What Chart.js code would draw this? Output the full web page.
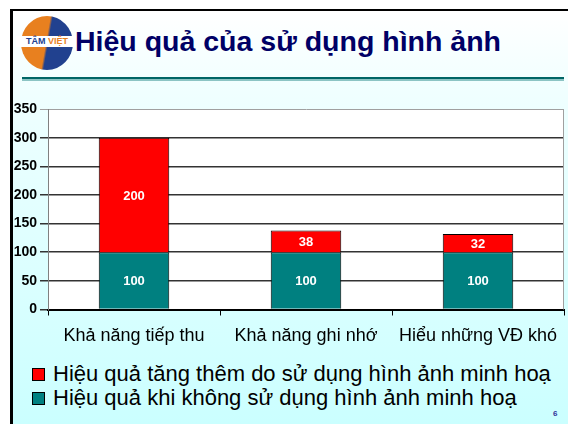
<!DOCTYPE html>
<html>
<head>
<meta charset="utf-8">
<script src="https://cdn.jsdelivr.net/npm/chart.js@4/dist/chart.umd.min.js"></script>
<style>
  html, body { margin: 0; padding: 0; background: #fff; }
  body { width: 568px; height: 424px; position: relative; overflow: hidden; font-family: "Liberation Sans", Arial, sans-serif; }
  #slide { position: absolute; left: 10px; top: 9px; width: 570px; height: 420px; border-top: 2px solid #000; border-left: 3px solid #000;
           background: linear-gradient(to bottom, #ffffff 0%, #eeffff 22%, #caffff 100%); }
  #logo { position: absolute; left: 21px; top: 16px; width: 52px; height: 54px; border-radius: 50%;
          background: linear-gradient(100deg, #e8801f 0%, #e8801f 48%, #21418f 52%, #21418f 100%); }
  #logoText { position: absolute; left: 16px; top: 36px; width: 62px; height: 11px; background: #fff; font-size: 9px; font-weight: bold;
              line-height: 11px; text-align: center; letter-spacing: 0; }
  #logoText .a { color: #21418f; } #logoText .b { color: #e8801f; }
  #title { position: absolute; left: 75px; top: 27px; font-size: 28.5px; line-height: 29px; font-weight: bold; color: #000066; white-space: nowrap; }
  #rule1 { position: absolute; left: 22px; top: 77px; width: 542px; height: 2px; background: #006666; }
  #rule2 { position: absolute; left: 22px; top: 79px; width: 542px; height: 2px; background: #8cc4c4; }
  #chartBox { position: absolute; left: 0; top: 95px; width: 568px; height: 260px; }
  #legend { position: absolute; left: 32px; top: 362px; }
  .row { height: 24px; line-height: 24px; font-size: 22px; white-space: nowrap; position: relative; padding-left: 21px; color: #000; }
  .sw { position: absolute; left: 0; top: 6px; width: 11px; height: 11px; border: 1px solid #000; }
  #page { position: absolute; left: 553px; top: 409px; font-size: 8px; font-weight: bold; color: #333399; }
</style>
</head>
<body>
<div id="slide"></div>
<div id="logo"></div>
<div id="logoText"><span class="a">TÂM</span> <span class="b">VIỆT</span></div>
<div id="title">Hiệu quả của sử dụng hình ảnh</div>
<div id="rule1"></div>
<div id="rule2"></div>
<div id="chartBox"><canvas id="chart"></canvas></div>
<div id="legend"></div>
<div id="page">6</div>
<script>
  // données
  const categories = ["Khả năng tiếp thu", "Khả năng ghi nhớ", "Hiểu những VĐ khó"];
  const baseValues = [100, 100, 100];
  const extraValues = [200, 38, 32];
  const seriesNames = ["Hiệu quả khi không sử dụng hình ảnh minh hoạ", "Hiệu quả tăng thêm do sử dụng hình ảnh minh hoạ"];
  const seriesColors = ["#008080", "#ff0000"];
  const yMax = 350;
  const yStep = 50;

  const font = '"Liberation Sans", Arial, sans-serif';

  // légende en HTML (série du haut en premier)
  const legend = document.getElementById("legend");
  for (let i = seriesNames.length - 1; i >= 0; i--) {
    const row = document.createElement("div");
    row.className = "row";
    const sw = document.createElement("span");
    sw.className = "sw";
    sw.style.background = seriesColors[i];
    row.appendChild(sw);
    row.appendChild(document.createTextNode(seriesNames[i]));
    legend.appendChild(row);
  }

  // fond blanc + cadre gris de la zone de tracé
  const plotFrame = {
    id: "plotFrame",
    beforeDraw(chart) {
      const { ctx, chartArea: a } = chart;
      ctx.save();
      ctx.fillStyle = "#fff";
      ctx.fillRect(a.left, a.top, a.right - a.left, a.bottom - a.top);
      ctx.restore();
    },
    afterDraw(chart) {
      const { ctx, chartArea: a } = chart;
      ctx.save();
      ctx.strokeStyle = "#a0a0a0";
      ctx.lineWidth = 1;
      ctx.beginPath();
      ctx.moveTo(a.right - 0.5, a.top);
      ctx.lineTo(a.right - 0.5, a.bottom);
      ctx.stroke();
      ctx.restore();
    }
  };

  // valeurs au centre des barres
  const barLabels = {
    id: "barLabels",
    afterDatasetsDraw(chart) {
      const ctx = chart.ctx;
      ctx.save();
      ctx.fillStyle = "#fff";
      ctx.font = "bold 13px " + font;
      ctx.textAlign = "center";
      ctx.textBaseline = "middle";
      chart.data.datasets.forEach((ds, i) => {
        chart.getDatasetMeta(i).data.forEach((bar, j) => {
          ctx.fillText(ds.data[j], bar.x, (bar.y + bar.base) / 2 + 1);
        });
      });
      ctx.restore();
    }
  };

  new Chart(document.getElementById("chart"), {
    type: "bar",
    data: {
      labels: categories,
      datasets: [
        { label: seriesNames[0], data: baseValues, backgroundColor: seriesColors[0], borderColor: "#000", borderWidth: 1 },
        { label: seriesNames[1], data: extraValues, backgroundColor: seriesColors[1], borderColor: "#000", borderWidth: 1 }
      ]
    },
    options: {
      responsive: true,
      maintainAspectRatio: false,
      animation: false,
      categoryPercentage: 0.41,
      barPercentage: 1,
      layout: { padding: { left: 0, right: 4, top: 14, bottom: 0 } },
      plugins: { legend: { display: false }, tooltip: { enabled: false } },
      scales: {
        x: {
          stacked: true,
          grid: { drawOnChartArea: false, drawTicks: true, tickLength: 6, color: "#000", lineWidth: 1 },
          border: { color: "#000", width: 2 },
          ticks: { color: "#000", font: { family: font, size: 18 }, padding: 10, maxRotation: 0, autoSkip: false },
          afterFit(scale) { scale.height = 45.5; }
        },
        y: {
          stacked: true,
          min: 0,
          max: yMax,
          grid: {
            color: c => (c.tick && c.tick.value === yMax) ? "#a0a0a0" : "#333",
            lineWidth: c => (c.tick && c.tick.value === yMax) ? 1 : 1.5,
            tickLength: 8,
            drawTicks: true
          },
          border: { color: "#808080", width: 1 },
          ticks: { stepSize: yStep, color: "#000", font: { family: font, size: 14, weight: "bold" }, padding: 3 },
          afterFit(scale) { scale.width = 48; }
        }
      }
    },
    plugins: [plotFrame, barLabels]
  });
</script>
</body>
</html>
